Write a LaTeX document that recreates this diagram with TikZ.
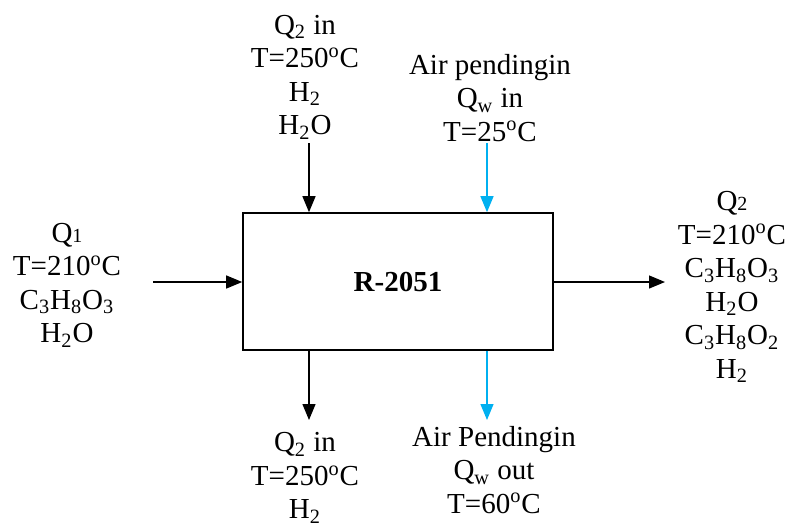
\documentclass[tikz,border=0pt]{standalone}
\usepackage{fontspec}
\setmainfont{Liberation Serif}
\usepackage{tikz}
\usetikzlibrary{arrows.meta}
\definecolor{coolblue}{RGB}{0,176,240}
\newcommand{\smallnum}[1]{{\fontsize{10}{10}\selectfont #1}}
\newcommand{\degsign}{\textsuperscript{o}}

\begin{document}
\begin{tikzpicture}[x=0.5pt, y=-0.5pt, stream/.style={align=center, inner sep=0pt, font=\fontsize{14.5}{16.75}\selectfont}, flow/.style={-{Triangle[length=8pt,width=6.5pt]}, line width=0.65pt}, coolflow/.style={flow, draw=coolblue, fill=coolblue}, unit/.style={draw, line width=0.8pt, minimum width=155pt, minimum height=68.5pt, inner sep=0pt, font=\fontsize{14.5}{16.75}\selectfont\bfseries}]
	\useasboundingbox (0,0) rectangle (788,527);
	\node[unit] (reactor) at (398,281.5) {R-2051};
	\node[stream] (feed) at (67,285) {Q\smallnum{1}\\T=210\degsign C\\C\textsubscript{3}H\textsubscript{8}O\textsubscript{3}\\H\textsubscript{2}O};
	\node[stream] (h2In) at (305,77) {Q\textsubscript{2} in\\T=250\degsign C\\H\textsubscript{2}\\H\textsubscript{2}O};
	\node[stream] (coolIn) at (490,98) {Air pendingin\\Q\textsubscript{w} in\\T=25\degsign C};
	\node[stream] (product) at (732,287) {Q\smallnum{2}\\T=210\degsign C\\C\textsubscript{3}H\textsubscript{8}O\textsubscript{3}\\H\textsubscript{2}O\\C\textsubscript{3}H\textsubscript{8}O\textsubscript{2}\\H\textsubscript{2}};
	\node[stream] (h2Out) at (305,478) {Q\textsubscript{2} in\\T=250\degsign C\\H\textsubscript{2}};
	\node[stream] (coolOut) at (494,470) {Air Pendingin\\Q\textsubscript{w} out\\T=60\degsign C};
	\coordinate (feedTail) at (153,282);
	\coordinate (h2InTail) at (309,143);
	\coordinate (coolInTail) at (487,143);
	\coordinate (productHead) at (665,282);
	\coordinate (h2OutHead) at (309,420);
	\coordinate (coolOutHead) at (487,420);
	\draw[flow] (feedTail) -- (feedTail -| reactor.west);
	\draw[flow] (h2InTail) -- (h2InTail |- reactor.north);
	\draw[coolflow] (coolInTail) -- (coolInTail |- reactor.north);
	\draw[flow] (productHead -| reactor.east) -- (productHead);
	\draw[flow] (h2OutHead |- reactor.south) -- (h2OutHead);
	\draw[coolflow] (coolOutHead |- reactor.south) -- (coolOutHead);
\end{tikzpicture}
\end{document}
